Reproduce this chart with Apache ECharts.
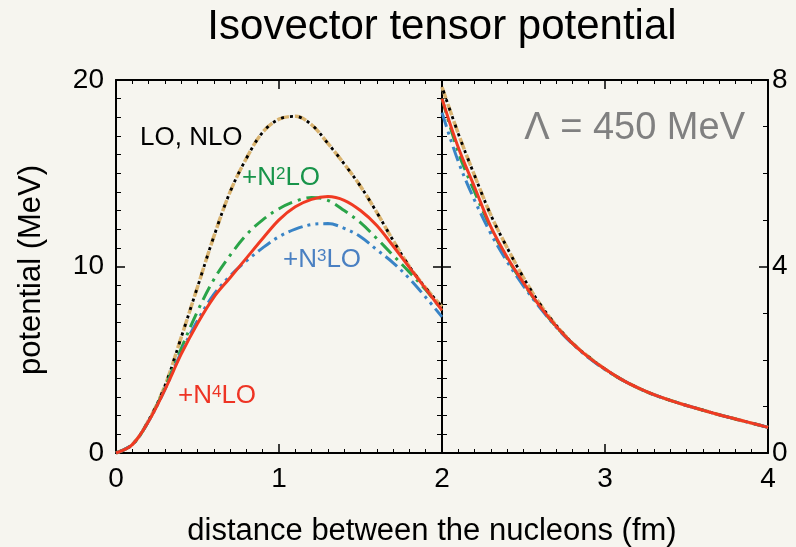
<!DOCTYPE html>
<html>
<head>
<meta charset="UTF-8">
<title>Isovector tensor potential</title>
<script src="https://cdn.jsdelivr.net/npm/echarts@6/dist/echarts.min.js"></script>
<style>
  html, body { margin: 0; padding: 0; background: #f6f5ef; }
</style>
</head>
<body>
<div id="main" style="width:796px;height:547px;"></div>
<script>
// distances (fm)
var rLeft = [0, 0.1, 0.2, 0.3, 0.4, 0.5, 0.6, 0.7, 0.8, 0.9, 1.0, 1.1, 1.2, 1.3, 1.4, 1.5, 1.6, 1.7, 1.8, 1.9, 2.0];
var rRight = [2.0, 2.1, 2.2, 2.3, 2.4, 2.5, 2.6, 2.7, 2.8, 2.9, 3.0, 3.1, 3.2, 3.3, 3.4, 3.5, 3.6, 3.7, 3.8, 3.9, 4.0];

// potential (MeV)
var loLeft = [0, 0.45, 1.75, 3.6, 6.2, 8.9, 11.6, 14.0, 15.8, 17.2, 17.9, 18.05, 17.6, 16.6, 15.5, 14.3, 12.9, 11.4, 10.0, 8.85, 7.85];
var n2Left = [0, 0.45, 1.7, 3.5, 5.6, 7.6, 9.3, 10.6, 11.7, 12.5, 13.1, 13.5, 13.7, 13.55, 13.0, 12.35, 11.5, 10.6, 9.7, 8.75, 7.65];
var n3Left = [0, 0.45, 1.7, 3.4, 5.4, 7.1, 8.5, 9.5, 10.3, 11.0, 11.6, 12.0, 12.25, 12.3, 12.05, 11.6, 10.9, 10.2, 9.35, 8.35, 7.3];
var n4Left = [0, 0.45, 1.7, 3.4, 5.3, 6.95, 8.35, 9.4, 10.45, 11.5, 12.5, 13.2, 13.6, 13.75, 13.55, 13.0, 12.2, 11.1, 9.95, 8.8, 7.65];

var loRight = [7.85, 6.85, 5.95, 5.1, 4.4, 3.76, 3.2, 2.74, 2.36, 2.06, 1.8, 1.58, 1.40, 1.25, 1.13, 1.02, 0.92, 0.82, 0.73, 0.64, 0.55];
var n2Right = [7.6, 6.45, 5.6, 4.82, 4.17, 3.63, 3.14, 2.71, 2.35, 2.05, 1.8, 1.58, 1.40, 1.25, 1.13, 1.02, 0.92, 0.82, 0.73, 0.64, 0.55];
var n3Right = [7.3, 6.25, 5.42, 4.7, 4.1, 3.58, 3.12, 2.7, 2.34, 2.04, 1.79, 1.58, 1.40, 1.25, 1.13, 1.02, 0.92, 0.82, 0.73, 0.64, 0.55];
var n4Right = [7.6, 6.55, 5.7, 4.85, 4.2, 3.65, 3.15, 2.72, 2.35, 2.05, 1.8, 1.58, 1.40, 1.25, 1.13, 1.02, 0.92, 0.82, 0.73, 0.64, 0.55];

function pairs(xs, ys) {
    return xs.map(function (x, i) { return [x, ys[i]]; });
}

var FONT = "'Liberation Sans', Helvetica, Arial, sans-serif";

var myChart = echarts.init(document.getElementById('main'));

function xAx(grid, pos, min, max, labels, showMin) {
    return {
        type: 'value', gridIndex: grid, position: pos, min: min, max: max, interval: 1,
        axisLine: { show: true, onZero: false, lineStyle: { color: '#000', width: 2 } },
        axisTick: { show: true, inside: true, length: 9, lineStyle: { color: '#000', width: 1.5 } },
        minorTick: { show: true, splitNumber: 10, length: 4, lineStyle: { color: '#000', width: 1 } },
        splitLine: { show: false },
        axisLabel: { show: labels, showMinLabel: showMin, color: '#000', fontSize: 28, fontFamily: FONT, margin: 12 }
    };
}

function yAx(grid, pos, max, interval, minorSplit, labels, margin) {
    return {
        type: 'value', gridIndex: grid, position: pos, min: 0, max: max, interval: interval,
        axisLine: { show: true, onZero: false, lineStyle: { color: '#000', width: 2 } },
        axisTick: { show: true, inside: true, length: 9, lineStyle: { color: '#000', width: 1.5 } },
        minorTick: { show: true, splitNumber: minorSplit, length: 5, lineStyle: { color: '#000', width: 1 } },
        splitLine: { show: false },
        axisLabel: { show: labels, color: '#000', fontSize: 28, fontFamily: FONT, margin: margin }
    };
}

function line(name, xi, yi, data, color, type, width, offset) {
    return {
        name: name, type: 'line', xAxisIndex: xi, yAxisIndex: yi,
        data: data, smooth: 0.35, showSymbol: false, symbol: 'none',
        lineStyle: { color: color, width: width, type: type, dashOffset: offset || 0, cap: 'butt' },
        silent: true, animation: false
    };
}

var TAN = '#d9b36f', BLK = '#000', GRN = '#2aa448', BLU = '#3984c6', RED = '#f03a22';
var DASH = [12, 6], DOT = [3, 6], DASHDOT = [15, 6, 3, 6], DASHDOTDOT = [15, 5, 3, 5, 3, 5];

var option = {
    backgroundColor: '#f6f5ef',
    animation: false,
    grid: [
        { left: 116, top: 80, width: 326, height: 373 },
        { left: 442, top: 80, width: 326, height: 373 }
    ],
    xAxis: [
        xAx(0, 'bottom', 0, 2, true, true),
        xAx(0, 'top', 0, 2, false, true),
        xAx(1, 'bottom', 2, 4, true, false),
        xAx(1, 'top', 2, 4, false, false)
    ],
    yAxis: [
        yAx(0, 'left', 20, 10, 10, true, 12),
        yAx(0, 'right', 20, 10, 10, false, 0),
        yAx(1, 'left', 20, 10, 10, false, 0),
        yAx(1, 'right', 8, 4, 4, true, 4)
    ],
    series: [
        line('LO', 0, 0, pairs(rLeft, loLeft), TAN, DASH, 3.5),
        line('NLO', 0, 0, pairs(rLeft, loLeft), BLK, DOT, 2.8, 5),
        line('N2LO', 0, 0, pairs(rLeft, n2Left), GRN, DASHDOT, 3),
        line('N3LO', 0, 0, pairs(rLeft, n3Left), BLU, DASHDOTDOT, 3),
        line('N4LO', 0, 0, pairs(rLeft, n4Left), RED, 'solid', 3),
        line('LO', 2, 3, pairs(rRight, loRight), TAN, DASH, 3.5),
        line('NLO', 2, 3, pairs(rRight, loRight), BLK, DOT, 2.8, 5),
        line('N2LO', 2, 3, pairs(rRight, n2Right), GRN, DASHDOT, 3),
        line('N3LO', 2, 3, pairs(rRight, n3Right), BLU, DASHDOTDOT, 3),
        line('N4LO', 2, 3, pairs(rRight, n4Right), RED, 'solid', 3)
    ],
    graphic: [
        { type: 'text', x: 442, y: 27, style: { text: 'Isovector tensor potential', fill: '#000', font: '42px ' + FONT, align: 'center', verticalAlign: 'middle' } },
        { type: 'text', x: 432, y: 531, style: { text: 'distance between the nucleons (fm)', fill: '#000', font: '31px ' + FONT, align: 'center', verticalAlign: 'middle' } },
        { type: 'text', x: 31, y: 270, rotation: Math.PI / 2, style: { text: 'potential (MeV)', fill: '#000', font: '31px ' + FONT, align: 'center', verticalAlign: 'middle' } },
        { type: 'text', x: 745, y: 129, style: { text: 'Λ = 450 MeV', fill: '#808080', font: '38px ' + FONT, align: 'right', verticalAlign: 'middle' } },
        { type: 'text', x: 140, y: 138, style: { text: 'LO, NLO', fill: '#000', font: '26px ' + FONT, verticalAlign: 'middle' } },
        { type: 'text', x: 242, y: 178, style: { text: '{b|+N}{s|2}{b|LO}', verticalAlign: 'middle',
            rich: { b: { fill: '#18944a', fontSize: 26, fontFamily: FONT, verticalAlign: 'top' }, s: { fill: '#18944a', fontSize: 17, fontFamily: FONT, verticalAlign: 'top', padding: [1, 0, 0, 0] } } } },
        { type: 'text', x: 283, y: 260, style: { text: '{b|+N}{s|3}{b|LO}', verticalAlign: 'middle',
            rich: { b: { fill: '#4a80c2', fontSize: 26, fontFamily: FONT, verticalAlign: 'top' }, s: { fill: '#4a80c2', fontSize: 17, fontFamily: FONT, verticalAlign: 'top', padding: [1, 0, 0, 0] } } } },
        { type: 'text', x: 178, y: 396, style: { text: '{b|+N}{s|4}{b|LO}', verticalAlign: 'middle',
            rich: { b: { fill: '#ee3424', fontSize: 26, fontFamily: FONT, verticalAlign: 'top' }, s: { fill: '#ee3424', fontSize: 17, fontFamily: FONT, verticalAlign: 'top', padding: [1, 0, 0, 0] } } } }
    ]
};

myChart.setOption(option);
</script>
</body>
</html>
